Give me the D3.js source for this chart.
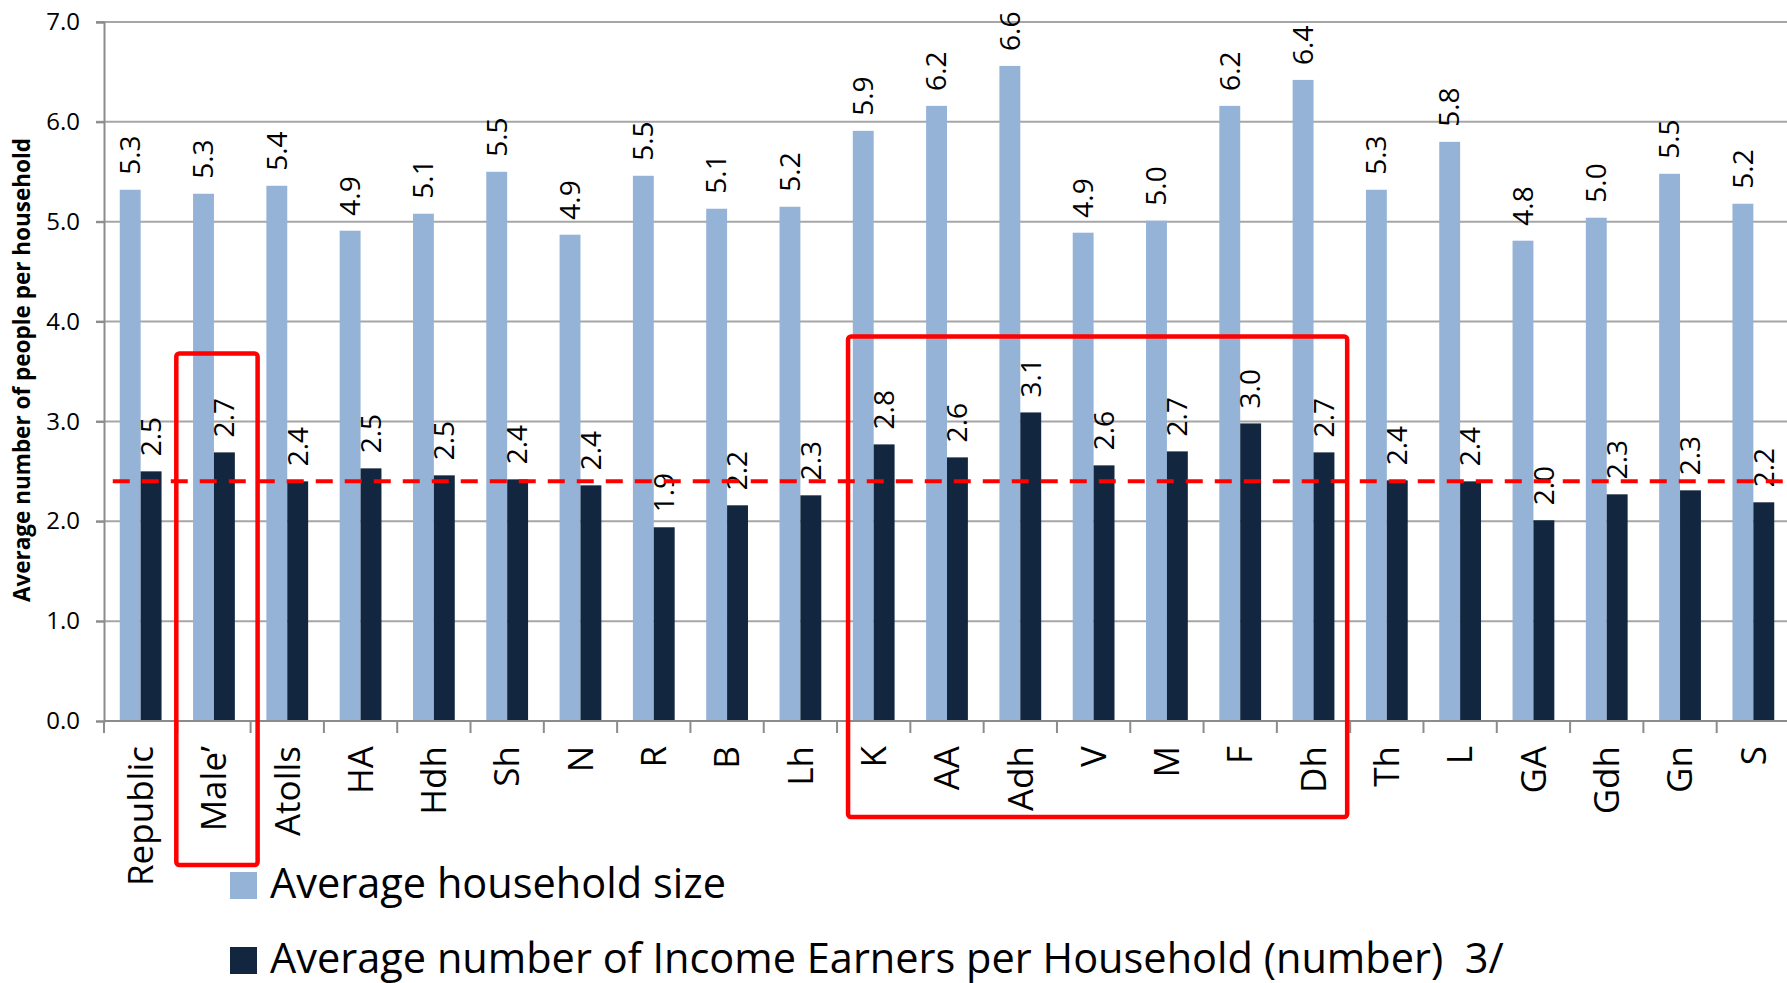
<!DOCTYPE html>
<html>
<head>
<meta charset="utf-8">
<script src="https://cdn.jsdelivr.net/npm/d3@7"></script>
<style>
  body { margin: 0; background: #fff; }
  svg { display: block; font-family: "Open Sans", sans-serif; }
</style>
</head>
<body>
<svg id="chart" width="1787" height="983"></svg>
<script>
// atoll codes along the x axis
const categories = ["Republic", "Male’", "Atolls", "HA", "Hdh", "Sh", "N", "R", "B", "Lh",
    "K", "AA", "Adh", "V", "M", "F", "Dh", "Th", "L", "GA", "Gdh", "Gn", "S"];

const householdSize = [5.32, 5.28, 5.36, 4.91, 5.08, 5.50, 4.87, 5.46, 5.13, 5.15,
    5.91, 6.16, 6.56, 4.89, 5.01, 6.16, 6.42, 5.32, 5.80, 4.81, 5.04, 5.48, 5.18];

const incomeEarners = [2.50, 2.69, 2.40, 2.53, 2.46, 2.42, 2.36, 1.94, 2.16, 2.26,
    2.77, 2.64, 3.09, 2.56, 2.70, 2.98, 2.69, 2.41, 2.40, 2.01, 2.27, 2.31, 2.19];

const seriesNames = ["Average household size",
    "Average number of Income Earners per Household (number)  3/"];
const seriesColors = ["#95b3d7", "#12263f"];

const yTicks = [0, 1, 2, 3, 4, 5, 6, 7];
const yTitle = "Average number of people per household";

// the red dashed line (Atolls level of earners)
const referenceValue = 2.4;

// red boxes drawn on top of the chart
const highlightFirst = ["Male’", "K"];
const highlightLast = ["Male’", "Dh"];
const highlightTop = [3.68, 3.85];

const svg = d3.select("#chart");

const plotLeft = 104, plotRight = 1790, plotTop = 22, plotBottom = 721;

var y = d3.scaleLinear()
    .domain([0, 7])
    .range([plotBottom, plotTop]);

var xOuter = d3.scaleBand()
    .domain(categories)
    .range([plotLeft, plotRight])
    .padding(0);

var x = d3.scaleBand()
    .domain(categories)
    .range([plotLeft, plotRight])
    .paddingInner(0.43)
    .paddingOuter(0.215);

var xSeries = d3.scaleBand()
    .domain([0, 1])
    .range([0, x.bandwidth()]);

// gridlines
svg.append("g")
    .selectAll("line")
    .data(yTicks.filter(d => d > 0))
    .enter()
    .append("line")
    .attr("x1", plotLeft - 8)
    .attr("x2", 1787)
    .attr("y1", d => y(d))
    .attr("y2", d => y(d))
    .style("stroke", "#a6a6a6")
    .style("stroke-width", 2);

// bars
var rows = categories.map((c, i) => ({ cat: c, values: [householdSize[i], incomeEarners[i]] }));

var groups = svg.append("g")
    .selectAll("g")
    .data(rows)
    .enter()
    .append("g")
    .attr("transform", d => "translate(" + x(d.cat) + ",0)");

groups.selectAll("rect")
    .data(d => d.values.map((v, k) => ({ k: k, v: v })))
    .enter()
    .append("rect")
    .attr("x", d => xSeries(d.k))
    .attr("width", xSeries.bandwidth())
    .attr("y", d => y(d.v))
    .attr("height", d => y(0) - y(d.v))
    .style("fill", d => seriesColors[d.k]);

// y axis
var yAxis = svg.append("g")
    .attr("transform", "translate(" + plotLeft + ",0)")
    .call(d3.axisLeft(y).tickValues(yTicks).tickFormat(d3.format(".1f")).tickSize(8).tickPadding(16));
yAxis.select(".domain").style("stroke", "#8c8c8c").style("stroke-width", 2);
yAxis.selectAll(".tick line").style("stroke", "#8c8c8c").style("stroke-width", 2);
yAxis.selectAll("text")
    .style("font-size", "24px")
    .style("fill", "#000")
    .style("font-family", "Open Sans");

// x axis line and boundary ticks
svg.append("line")
    .attr("x1", plotLeft).attr("x2", 1787)
    .attr("y1", y(0)).attr("y2", y(0))
    .style("stroke", "#8c8c8c").style("stroke-width", 2);

svg.append("g")
    .selectAll("line")
    .data(categories)
    .enter()
    .append("line")
    .attr("x1", d => xOuter(d))
    .attr("x2", d => xOuter(d))
    .attr("y1", y(0))
    .attr("y2", y(0) + 12)
    .style("stroke", "#8c8c8c")
    .style("stroke-width", 2);

svg.append("g")
    .selectAll("text")
    .data(categories)
    .enter()
    .append("text")
    .attr("transform", d => "translate(" + (xOuter(d) + xOuter.bandwidth() / 2) + "," + (y(0) + 25) + ") rotate(-90)")
    .attr("text-anchor", "end")
    .attr("dy", "0.35em")
    .style("font-size", "35px")
    .text(d => d);

// dashed reference line
svg.append("line")
    .attr("x1", x(categories[0]) - 7)
    .attr("x2", plotRight)
    .attr("y1", y(referenceValue))
    .attr("y2", y(referenceValue))
    .style("stroke", "#ff0000")
    .style("stroke-width", 4)
    .style("stroke-dasharray", "17,12");

// value labels
groups.selectAll("text")
    .data(d => d.values.map((v, k) => ({ k: k, v: v })))
    .enter()
    .append("text")
    .attr("transform", d => "translate(" + (xSeries(d.k) + xSeries.bandwidth() / 2) + "," + (y(d.v) - 15) + ") rotate(-90)")
    .attr("text-anchor", "start")
    .attr("dy", "0.35em")
    .style("font-size", "28px")
    .text(d => d.v.toFixed(1));

// y axis title
svg.append("text")
    .attr("transform", "translate(22,370) rotate(-90)")
    .attr("text-anchor", "middle")
    .attr("dy", "0.35em")
    .style("font-size", "22.5px")
    .style("font-weight", "bold")
    .text(yTitle);

// highlight boxes
var boxPad = [[-1, 7], [11, -3]];
var boxDrop = [144, 96];
svg.append("g")
    .selectAll("rect")
    .data(highlightFirst)
    .enter()
    .append("rect")
    .attr("x", (d, i) => xOuter(d) + boxPad[i][0])
    .attr("y", (d, i) => y(highlightTop[i]))
    .attr("width", (d, i) => xOuter(highlightLast[i]) + xOuter.bandwidth() + boxPad[i][1] - xOuter(d) - boxPad[i][0])
    .attr("height", (d, i) => y(0) + boxDrop[i] - y(highlightTop[i]))
    .attr("rx", 3)
    .style("fill", "none")
    .style("stroke", "#ff0000")
    .style("stroke-width", 4.5);

// legend
var legend = svg.append("g")
    .selectAll("g")
    .data(seriesNames)
    .enter()
    .append("g")
    .attr("transform", (d, i) => "translate(230," + (872 + i * 75) + ")");

legend.append("rect")
    .attr("width", 27)
    .attr("height", 27)
    .style("fill", (d, i) => seriesColors[i]);

legend.append("text")
    .attr("x", 40)
    .attr("y", 26)
    .style("font-size", "41.5px")
    .style("white-space", "pre")
    .text(d => d);
</script>
</body>
</html>
